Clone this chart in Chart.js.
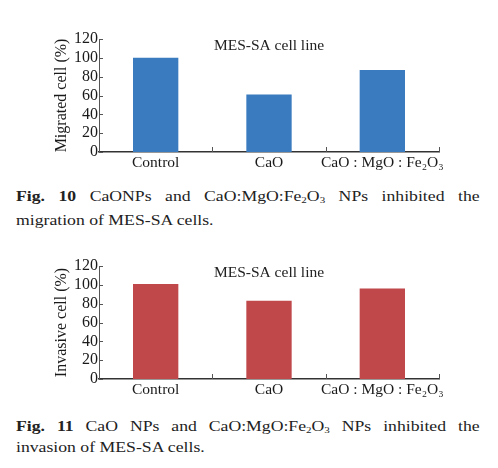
<!DOCTYPE html>
<html>
<head>
<meta charset="utf-8">
<script src="https://cdn.jsdelivr.net/npm/chart.js@4.4.1/dist/chart.umd.min.js"></script>
<style>
  body { margin: 0; background: #fff; width: 498px; height: 468px; position: relative; overflow: hidden; font-family: "Liberation Serif", serif; color: #222; }
  .box { position: absolute; left: 0; width: 498px; height: 175px; }
  .cap { position: absolute; left: 16px; width: 380px; font-size: 14.5px; line-height: 20px; transform: scaleX(1.22); transform-origin: left top; white-space: nowrap; }
  .cap.full { text-align: justify; text-align-last: justify; white-space: normal; }
  sub { font-size: 9px; vertical-align: -2px; line-height: 0; }
</style>
</head>
<body>
<div class="box" style="top:0"><canvas id="myChart"></canvas></div>
<div class="cap full" style="top:186px"><b>Fig. 10</b> CaONPs and CaO:MgO:Fe<sub>2</sub>O<sub>3</sub> NPs inhibited the</div>
<div class="cap" style="top:210px">migration of MES-SA cells.</div>
<div class="box" style="top:227px"><canvas id="myChart2"></canvas></div>
<div class="cap full" style="top:416px"><b>Fig. 11</b> CaO NPs and CaO:MgO:Fe<sub>2</sub>O<sub>3</sub> NPs inhibited the</div>
<div class="cap" style="top:437px">invasion of MES-SA cells.</div>
<script>
const categories = ['Control', 'CaO', 'CaO : MgO : Fe\u2082O\u2083']
const migrated = [100, 61, 87]
const invasive = [101, 83, 96]
const yTicks = [0, 20, 40, 60, 80, 100, 120]

const serif = '"Liberation Serif", "DejaVu Serif", serif'

// title inside plot + small inward tick marks
const deco = {
  id: 'deco',
  afterDraw(chart, args, opts) {
    const {ctx, chartArea: a, scales: {x, y}} = chart
    ctx.save()
    ctx.fillStyle = '#222'
    ctx.font = '15.5px ' + serif
    ctx.textAlign = 'center'
    ctx.textBaseline = 'middle'
    ctx.fillText(opts.text, (a.left + a.right) / 2, a.top + 7)
    ctx.strokeStyle = '#555'
    ctx.lineWidth = 1
    ctx.beginPath()
    for (let i = 1; i <= categories.length; i++) {
      const px = Math.round(x.getPixelForValue(i - 0.5)) + 0.5
      ctx.moveTo(px, a.bottom)
      ctx.lineTo(px, a.bottom - 5)
    }
    yTicks.forEach(v => {
      const py = Math.round(y.getPixelForValue(v)) + 0.5
      ctx.moveTo(a.left, py)
      ctx.lineTo(a.left + 4, py)
    })
    ctx.stroke()
    ctx.restore()
  }
}

function makeChart(el, values, color, yTitle, title) {
  return new Chart(el, {
    type: 'bar',
    data: {
      labels: categories,
      datasets: [{
        data: values,
        backgroundColor: color,
        borderWidth: 0,
        categoryPercentage: 0.4,
        barPercentage: 1
      }]
    },
    options: {
      responsive: true,
      maintainAspectRatio: false,
      animation: false,
      layout: { padding: { top: 39, left: 52, right: 59, bottom: 0 } },
      plugins: { legend: { display: false }, tooltip: { enabled: false }, deco: { text: title } },
      scales: {
        x: {
          grid: { display: false, drawTicks: false },
          border: { display: true, color: '#333', width: 1.5 },
          ticks: { color: '#1a1a1a', font: { family: serif, size: 15.5 }, padding: 2, maxRotation: 0, autoSkip: false },
          afterFit: s => { s.height = 175 - 39 - 113 }
        },
        y: {
          min: 0,
          max: 120,
          afterBuildTicks: s => { s.ticks = yTicks.map(v => ({ value: v })) },
          grid: { display: false, drawTicks: false },
          border: { display: true, color: '#555', width: 1 },
          ticks: { color: '#1a1a1a', font: { family: serif, size: 16 }, padding: 1, autoSkip: false },
          title: { display: true, text: yTitle, color: '#1a1a1a', font: { family: serif, size: 16 }, padding: 0 },
          afterFit: s => { s.width = 47 }
        }
      }
    },
    plugins: [deco]
  })
}

makeChart(document.querySelector('#myChart'), migrated, '#3a7bc0', 'Migrated cell (%)', 'MES-SA cell line')
makeChart(document.querySelector('#myChart2'), invasive, '#c0474a', 'Invasive cell (%)', 'MES-SA cell line')
</script>
</body>
</html>
